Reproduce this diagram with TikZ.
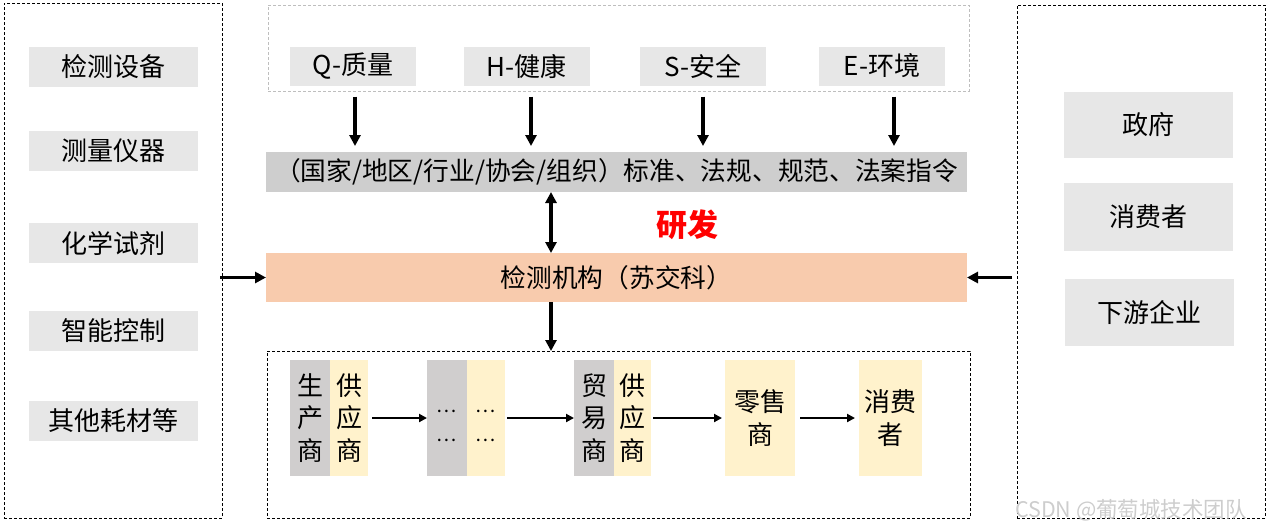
\documentclass[tikz,border=0pt]{standalone}
\usepackage{fontspec}
\setmainfont{Noto Sans CJK SC}
\usetikzlibrary{arrows.meta}
\definecolor{itemgray}{RGB}{231,231,231}
\definecolor{bargray}{RGB}{206,206,206}
\definecolor{cellgray}{RGB}{208,206,206}
\definecolor{cream}{RGB}{255,242,204}
\definecolor{peach}{RGB}{248,203,173}
\definecolor{dashgray}{RGB}{190,190,190}
\definecolor{wmgray}{RGB}{205,205,205}
\begin{document}
\begin{tikzpicture}[x=1pt,y=-1pt,
  every node/.style={inner sep=0pt, outer sep=0pt},
  frame/.style={draw=black, line width=0.9pt, dash pattern=on 3pt off 2pt},
  lightframe/.style={draw=dashgray, line width=0.9pt, dash pattern=on 3pt off 2pt},
  item/.style={fill=itemgray, font=\fontsize{26}{30}\selectfont},
  bar/.style={minimum width=701pt, font=\fontsize{25.7}{30}\selectfont},
  gcell/.style={fill=cellgray, minimum height=116pt, align=center, font=\fontsize{26}{32.5}\selectfont},
  ccell/.style={fill=cream, minimum height=116pt, align=center, font=\fontsize{26}{32.5}\selectfont},
  dots/.style={font=\fontsize{19}{29}\selectfont, align=center},
  arr/.style={line width=3.4pt, -{Triangle[length=11pt,width=11pt]}},
  darr/.style={line width=3.4pt, {Triangle[length=11pt,width=11pt]}-{Triangle[length=11pt,width=11pt]}},
  carr/.style={line width=2.6pt, -{Triangle[length=8pt,width=8pt]}}
]
\useasboundingbox (0,0) rectangle (1268,531);

% frames
\node[frame, minimum width=218pt, minimum height=515pt] (lbox) at (113,260.5) {};
\node[lightframe, minimum width=701pt, minimum height=86pt] (tbox) at (618.5,48) {};
\node[frame, minimum width=703pt, minimum height=167pt] (bbox) at (618.5,434.5) {};
\node[frame, minimum width=248pt, minimum height=513pt] (rbox) at (1141,261.5) {};

% left items
\node[item, minimum width=169pt, minimum height=40pt] (l1) at (113.5,67) {检测设备};
\node[item, minimum width=169pt, minimum height=40pt] (l2) at (113.5,151) {测量仪器};
\node[item, minimum width=169pt, minimum height=40pt] (l3) at (113.5,243) {化学试剂};
\node[item, minimum width=169pt, minimum height=40pt] (l4) at (113.5,331) {智能控制};
\node[item, minimum width=169pt, minimum height=40pt] (l5) at (113.5,421) {其他耗材等};

% top items
\node[item, minimum width=126pt, minimum height=39pt] (q) at (353,66) {Q-质量};
\node[item, minimum width=126pt, minimum height=39pt] (h) at (526.5,66) {H-健康};
\node[item, minimum width=126pt, minimum height=39pt] (s) at (703,66) {S-安全};
\node[item, minimum width=126pt, minimum height=39pt] (e) at (882,66) {E-环境};

% bars
\node[bar, fill=bargray, minimum height=40pt] (std) at (616.5,172) {（国家/地区/行业/协会/组织）标准、法规、规范、法案指令};
\node[bar, fill=peach, minimum height=49pt] (lab) at (616.5,277.5) {检测机构（苏交科）};
\node[text=red, font=\fontsize{31}{34}\selectfont\bfseries] (rd) at (687,225) {研发};

% right items
\node[item, minimum width=169pt, minimum height=66pt] (r1) at (1148,125) {政府};
\node[item, minimum width=169pt, minimum height=68pt] (r2) at (1148,217) {消费者};
\node[item, minimum width=169pt, minimum height=67pt] (r3) at (1149.5,312.5) {下游企业};

% chain cells
\node[gcell, minimum width=40pt] (g1) at (310,418) {生\\产\\商};
\node[ccell, minimum width=38pt] (c1) at (349,418) {供\\应\\商};
\node[gcell, minimum width=40pt] (g2) at (447,418) {};
\node[ccell, minimum width=38pt] (c2) at (486,418) {};
\node[dots] (d1) at ([yshift=-8pt]g2.center) {…\\…};
\node[dots] (d2) at ([yshift=-8pt]c2.center) {…\\…};
\node[gcell, minimum width=40pt] (g3) at (594,418) {贸\\易\\商};
\node[ccell, minimum width=37pt] (c3) at (632.5,418) {供\\应\\商};
\node[ccell, minimum width=70pt] (c4) at (760,418) {零售\\商};
\node[ccell, minimum width=63pt] (c5) at (890.5,418) {消费\\者};

% watermark
\node[text=wmgray, font=\fontsize{21.5}{24}\selectfont] (wm) at (1131,510) {CSDN @葡萄城技术团队};

% connectors
\coordinate (mx) at (551,0);
\draw[arr] ([xshift=2pt,yshift=-11pt]q.south) -- ([xshift=2pt,yshift=6pt]q.south |- std.north);
\draw[arr] ([xshift=4.5pt,yshift=-11pt]h.south) -- ([xshift=4.5pt,yshift=6pt]h.south |- std.north);
\draw[arr] ([yshift=-11pt]s.south) -- ([yshift=6pt]s.south |- std.north);
\draw[arr] ([xshift=12pt,yshift=-11pt]e.south) -- ([xshift=12pt,yshift=6pt]e.south |- std.north);
\draw[darr] (std.south -| mx) -- (lab.north -| mx);
\draw[arr] (lab.south -| mx) -- (bbox.north -| mx);
\draw[arr] ([xshift=-2pt]lbox.east |- lab.west) -- (lab.west);
\draw[arr] ([xshift=-5pt]rbox.west |- lab.east) -- (lab.east);
\draw[carr] ([xshift=4pt]c1.east) -- (g2.west);
\draw[carr] ([xshift=2pt]c2.east) -- (g3.west);
\draw[carr] ([xshift=2pt]c3.east) -- ([xshift=-3pt]c4.west);
\draw[carr] ([xshift=5pt]c4.east) -- ([xshift=-4pt]c5.west);
\end{tikzpicture}
\end{document}
